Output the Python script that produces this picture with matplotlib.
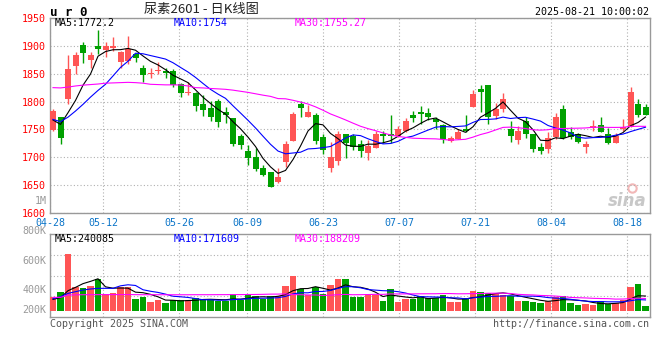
import matplotlib
matplotlib.use('Agg')
import matplotlib.pyplot as plt
import numpy as np
import pandas as pd

# daily K-line, urea 2601, 04-28 .. 08-21 (80 sessions)
opens = [1749, 1772, 1805, 1863, 1901, 1875, 1900, 1893, 1896, 1871,
         1873, 1886, 1860, 1849, 1854, 1854, 1855, 1832, 1815, 1816,
         1796, 1789, 1801, 1782, 1770, 1739, 1712, 1701, 1680, 1673,
         1655, 1691, 1730, 1796, 1773, 1776, 1737, 1680, 1693, 1741,
         1738, 1723, 1707, 1717, 1741, 1742, 1739, 1747, 1776, 1782,
         1779, 1768, 1758, 1730, 1733, 1751, 1791, 1822, 1830, 1774,
         1787, 1751, 1731, 1766, 1741, 1719, 1714, 1736, 1786, 1745,
         1741, 1718, 1753, 1758, 1741, 1726, 1750, 1755, 1795, 1791]
highs = [1786, 1773, 1883, 1889, 1907, 1889, 1929, 1907, 1915, 1891,
         1917, 1888, 1866, 1861, 1871, 1860, 1858, 1833, 1836, 1817,
         1812, 1801, 1805, 1790, 1771, 1741, 1722, 1717, 1686, 1674,
         1680, 1730, 1781, 1801, 1793, 1779, 1742, 1728, 1747, 1742,
         1742, 1731, 1731, 1748, 1748, 1776, 1757, 1771, 1783, 1792,
         1789, 1772, 1760, 1739, 1750, 1776, 1821, 1830, 1830, 1798,
         1816, 1766, 1756, 1772, 1741, 1725, 1745, 1780, 1793, 1755,
         1744, 1730, 1767, 1773, 1753, 1744, 1768, 1827, 1805, 1795]
lows = [1747, 1724, 1795, 1849, 1870, 1861, 1886, 1880, 1890, 1861,
        1867, 1871, 1836, 1843, 1849, 1842, 1827, 1808, 1812, 1783,
        1774, 1765, 1755, 1762, 1720, 1714, 1686, 1675, 1667, 1646,
        1653, 1682, 1730, 1773, 1773, 1724, 1705, 1673, 1686, 1699,
        1713, 1701, 1695, 1716, 1725, 1725, 1736, 1745, 1764, 1760,
        1767, 1751, 1725, 1727, 1732, 1746, 1790, 1782, 1760, 1769,
        1781, 1728, 1723, 1735, 1710, 1705, 1707, 1732, 1732, 1732,
        1726, 1707, 1747, 1745, 1723, 1725, 1747, 1754, 1773, 1775]
closes = [1783, 1735, 1858, 1883, 1888, 1883, 1895, 1900, 1899, 1889,
          1894, 1879, 1848, 1851, 1857, 1851, 1829, 1816, 1817, 1792,
          1785, 1773, 1763, 1775, 1723, 1722, 1698, 1679, 1668, 1647,
          1664, 1724, 1777, 1789, 1782, 1730, 1713, 1700, 1742, 1725,
          1719, 1712, 1720, 1741, 1738, 1738, 1751, 1766, 1771, 1778,
          1773, 1764, 1732, 1735, 1746, 1747, 1814, 1818, 1773, 1787,
          1805, 1739, 1747, 1742, 1714, 1711, 1735, 1773, 1735, 1736,
          1727, 1723, 1757, 1746, 1726, 1738, 1755, 1818, 1775, 1775]
# volume in thousand lots
volumes = [220, 308, 935, 396, 374, 407, 523, 270, 286, 385,
           396, 193, 226, 149, 182, 127, 176, 176, 176, 204,
           193, 193, 154, 160, 270, 176, 270, 248, 187, 242,
           242, 407, 572, 352, 259, 391, 275, 424, 523, 523,
           231, 231, 281, 259, 165, 358, 149, 198, 193, 248,
           204, 204, 253, 149, 149, 204, 330, 314, 297, 270,
           259, 248, 165, 165, 149, 132, 165, 220, 248, 132,
           94, 110, 94, 165, 105, 132, 176, 385, 440, 77]

# averages before a full window exists (need older sessions)
ma5_head = [1767, 1759, 1780, 1802]
ma10_head = [1768, 1764, 1772, 1783, 1795, 1808, 1820, 1831, 1846]
ma30_head = [1825, 1824.5, 1826, 1828, 1829.5, 1830.5, 1831.5, 1833, 1833.5,
             1834, 1834.5, 1834, 1833, 1831, 1830.5, 1830, 1830, 1829.8,
             1828, 1825, 1824.5, 1823.5, 1822.8, 1822, 1820.5, 1818.5,
             1816.5, 1814, 1811.5]
vma5_head = [187, 214, 330, 385]
vma10_head = [198, 231, 286, 314, 341, 358, 369, 369, 369]
vma30_head = [220, 220, 258, 262, 264, 264, 265, 265, 266, 266, 266, 265,
              264, 264, 264, 263, 263, 263, 263, 264, 264, 264, 265, 265,
              266, 266, 267, 268, 270]

date_labels = ['04-28', '05-12', '05-26', '06-09', '06-23',
               '07-07', '07-21', '08-04', '08-18']
date_index = [0, 7, 17, 26, 36, 46, 56, 66, 76]
price_ticks = [1600, 1650, 1700, 1750, 1800, 1850, 1900, 1950]
price_header = ['MA5:1772.2', 'MA10:1754', 'MA30:1755.27']
volume_header = ['MA5:240085', 'MA10:171609', 'MA30:188209']
volume_ticks = ['1M', '800K', '600K', '400K', '200K']

RED = '#ff5555'
GREEN = '#00a000'
MA_COLORS = ['black', '#0000ff', '#ff00ff']
GRID = dict(color='#b0b0b0', linestyle=(0, (1, 2)), linewidth=0.8)
MONO = 'DejaVu Sans Mono'


def moving_average(values, window, head):
    ma = pd.Series(values, dtype=float).rolling(window).mean().to_numpy()
    ma[:window - 1] = head
    return ma


W, H = 660, 360
fig = plt.figure(figsize=(W / 100, H / 100), dpi=100)
fig.patch.set_facecolor('white')


def px(x, y):
    """pixel position -> figure fraction"""
    return x / W, 1 - y / H


ax = fig.add_axes([50 / W, 1 - 213 / H, 600 / W, 195 / H])
axv = fig.add_axes([50 / W, 1 - 317.3 / H, 600 / W, 83.3 / H])

x = np.arange(len(closes))
o = np.array(opens, dtype=float)
c = np.array(closes, dtype=float)
up = c >= o
colors = np.where(up, RED, GREEN)

# wicks and bodies
ax.vlines(x, lows, highs, colors=colors, linewidth=1.0, zorder=3)
body = np.maximum(np.abs(c - o), 1.2)
ax.bar(x, body, bottom=np.minimum(o, c), width=0.8, color=colors,
       linewidth=0, zorder=4)

ax.plot(x, moving_average(closes, 5, ma5_head), color=MA_COLORS[0], lw=0.8, zorder=5)
ax.plot(x, moving_average(closes, 10, ma10_head), color=MA_COLORS[1], lw=0.8, zorder=5)
ax.plot(x, moving_average(closes, 30, ma30_head), color=MA_COLORS[2], lw=0.8, zorder=5)

axv.bar(x, volumes, width=0.84, color=colors, linewidth=0, zorder=3)
axv.plot(x, moving_average(volumes, 5, vma5_head), color=MA_COLORS[0], lw=0.8, zorder=4)
axv.plot(x, moving_average(volumes, 10, vma10_head), color=MA_COLORS[1], lw=0.8, zorder=4)
axv.plot(x, moving_average(volumes, 30, vma30_head), color=MA_COLORS[2], lw=0.8, zorder=4)

# sina's date grid runs a touch wider than the candle pitch
tick_pos = np.array(date_index) * 1.0123 - 0.4

for a in (ax, axv):
    a.set_xlim(-0.4, 79.6)
    a.set_xticks(tick_pos)
    a.grid(axis='x', **GRID, zorder=0)
    for s in a.spines.values():
        s.set_color('#999999')
        s.set_linewidth(1.0)
    a.tick_params(length=0)

ax.set_ylim(1600, 1950)
ax.set_yticks(price_ticks)
ax.set_yticklabels([str(t) for t in price_ticks], color='#ff0000',
                   fontsize=7.2, family=MONO)
ax.grid(axis='y', **GRID, zorder=0)
ax.set_xticklabels(date_labels, color='#0a74c8', fontsize=7.2, family=MONO)
ax.tick_params(axis='x', pad=3.5)
ax.tick_params(axis='y', pad=3)

vlo, vhi = -109, 1266
axv.set_ylim(vlo, vhi)
axv.set_yticks([vlo + f * (vhi - vlo) for f in (0.25, 0.5, 0.75)])
axv.set_yticklabels([])
axv.set_xticklabels([])
axv.grid(axis='y', **GRID, zorder=0)

# header texts
fig.text(*px(50, 12.5), 'u r 0', fontsize=9, weight='bold', family=MONO,
         va='center', ha='left')
fig.text(*px(201, 10), '尿素2601 - 日K线图', fontsize=9.5,
         family=['Noto Sans CJK SC', 'DejaVu Sans'], va='center', ha='center',
         color='#222222')
fig.text(*px(649, 12), '2025-08-21 10:00:02', fontsize=7.2, family=MONO,
         va='center', ha='right')

for xpos, label, col in zip([55, 174, 295], price_header, MA_COLORS):
    fig.text(*px(xpos, 23.5), label, fontsize=7.2, family=MONO, color=col,
             va='center', ha='left')
for xpos, label, col in zip([55, 174, 295], volume_header, MA_COLORS):
    fig.text(*px(xpos, 238.5), label, fontsize=7.2, family=MONO, color=col,
             va='center', ha='left')

# volume axis labels, drawn where sina puts them
for ypos, label in zip([200.7, 231, 261, 290, 310], volume_ticks):
    fig.text(*px(46.5, ypos), label, fontsize=7.2, family=MONO,
             color='#999999', va='center', ha='right')

fig.text(*px(50, 324), 'Copyright 2025 SINA.COM', fontsize=7.2, family=MONO,
         color='#555555', va='center', ha='left')
fig.text(*px(649, 324), 'http://finance.sina.com.cn', fontsize=7.2,
         family=MONO, color='#555555', va='center', ha='right')

# watermark
ax.text(0.995, 0.06, 'sina', transform=ax.transAxes, ha='right', va='center',
        fontsize=12, style='italic', weight='bold', color='#c8c8c8', zorder=1)
ax.plot([0.97], [0.13], transform=ax.transAxes, marker='o', ms=6, mfc='none',
        mec='#f2b8b8', mew=1.5, zorder=1)

fig.savefig('out.png', dpi=100, facecolor='white')
